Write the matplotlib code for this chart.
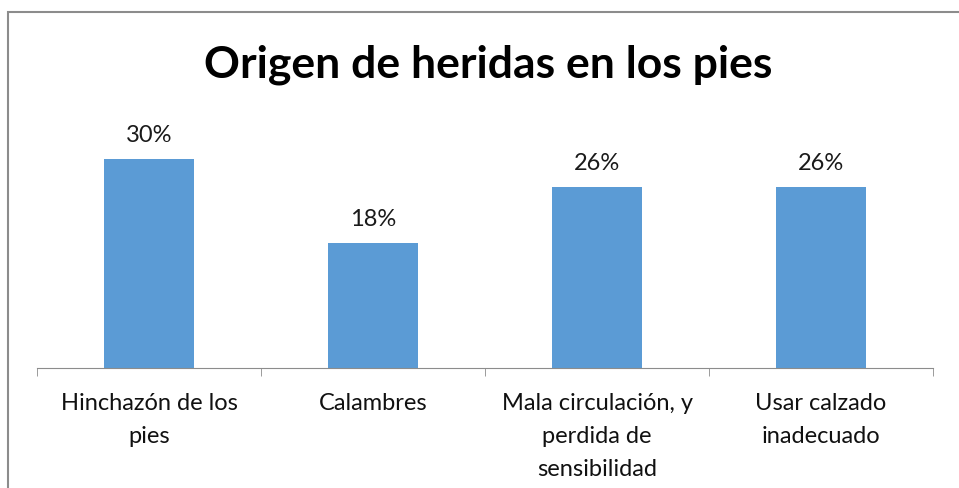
import matplotlib.pyplot as plt
from matplotlib.patches import Rectangle

# datos del gráfico
categorias = ['Hinchazón de los\npies', 'Calambres',
              'Mala circulación, y\nperdida de\nsensibilidad',
              'Usar calzado\ninadecuado']
valores = [0.30, 0.18, 0.26, 0.26]
etiquetas = ['30%', '18%', '26%', '26%']

plt.rcParams['font.family'] = ['Lato', 'DejaVu Sans']

W, H = 959, 488
fig = plt.figure(figsize=(W / 100, H / 100), dpi=100)

# marco gris del área del gráfico (solo se ve arriba y a la izquierda)
fig.add_artist(Rectangle((8 / W, -0.1), 1.2, (H - 12) / H + 0.1,
                         transform=fig.transFigure, fill=False,
                         edgecolor='#8c8c8c', lw=1.5))

ax = fig.add_axes([37 / W, (H - 368) / H, (933 - 37) / W, (368 - 124) / H])
x = range(len(categorias))
ax.bar(x, valores, width=0.4, color='#5B9BD5')
ax.set_xlim(-0.5, len(categorias) - 0.5)
ax.set_ylim(0, 0.35)

for xi, v, t in zip(x, valores, etiquetas):
    ax.annotate(t, (xi, v), xytext=(0, 9), textcoords='offset points',
                ha='center', va='bottom', fontsize=17, color='#1a1a1a')

for s in ['top', 'right', 'left']:
    ax.spines[s].set_visible(False)
ax.spines['bottom'].set_color('#8c8c8c')
ax.set_yticks([])

ax.set_xticks(x)
ax.set_xticklabels(categorias, fontsize=17, linespacing=1.7, color='#111111')
ax.tick_params(axis='x', length=0, pad=18)
# marcas entre categorías
ax.set_xticks([i - 0.5 for i in range(len(categorias) + 1)], minor=True)
ax.tick_params(axis='x', which='minor', length=6, color='#8c8c8c')

fig.text(488 / W, (H - 65) / H, 'Origen de heridas en los pies',
         ha='center', va='center', fontsize=32, fontweight='bold')

fig.savefig('out.png', dpi=100)
